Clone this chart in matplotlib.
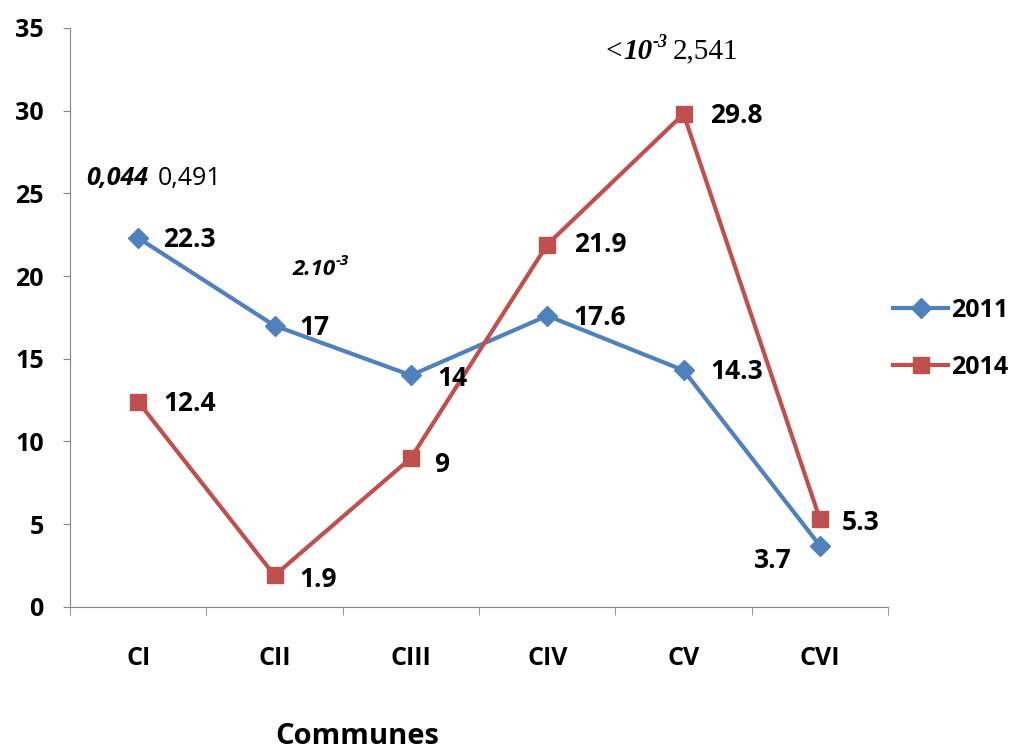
import matplotlib.pyplot as plt
from matplotlib.transforms import offset_copy
import numpy as np

# Données
communes = ['CI', 'CII', 'CIII', 'CIV', 'CV', 'CVI']
val_2011 = [22.3, 17, 14, 17.6, 14.3, 3.7]
val_2014 = [12.4, 1.9, 9, 21.9, 29.8, 5.3]
y_ticks = [0, 5, 10, 15, 20, 25, 30, 35]

bleu = '#4F81BD'
rouge = '#C0504D'
gris = '#868686'

plt.rcParams['font.family'] = ['Open Sans', 'DejaVu Sans']

fig = plt.figure(figsize=(10.15, 7.53), dpi=100)
ax = fig.add_axes([0.069, 0.194, 0.806, 0.769])

x = np.arange(len(communes))
l1, = ax.plot(x, val_2011, color=bleu, lw=3, marker='D', ms=10, label='2011', zorder=3)
l2, = ax.plot(x, val_2014, color=rouge, lw=3, marker='s', ms=11.5, label='2014', zorder=3)

# Etiquettes des valeurs (décalages en points)
dec_2011 = [(18, -1), (18, -1), (19, -2), (19, -1), (19, -1), (-20, -11)]
dec_2014 = [(18, -1), (18, -3), (17, -5), (19, 0), (19, -1), (16, -2)]
for i, v in enumerate(val_2011):
    ax.annotate(f'{v:g}', (x[i], v), xytext=dec_2011[i], textcoords='offset points',
                fontsize=19, fontweight='bold', va='center',
                ha='right' if i == 5 else 'left')
for i, v in enumerate(val_2014):
    ax.annotate(f'{v:g}', (x[i], v), xytext=dec_2014[i], textcoords='offset points',
                fontsize=19, fontweight='bold', va='center', ha='left')

# Annotations (p-values)
ax.text(-0.385, 25.9, '0,044', fontsize=18, fontweight='bold', style='italic', va='center')
ax.text(0.14, 25.9, '0,491', fontsize=18, va='center')

ax.text(1.13, 20.4, '2.10', fontsize=16, fontweight='bold', style='italic', va='center')
tr = offset_copy(ax.transData, fig=fig, x=31, y=6, units='points')
ax.text(1.13, 20.4, '-3', fontsize=11, fontweight='bold', style='italic', va='center', transform=tr)

serif = 'Liberation Serif'
ax.text(3.425, 33.55, '<', fontsize=21, family=serif, va='center')
ax.text(3.557, 33.55, '10', fontsize=21, family=serif, fontweight='bold', style='italic', va='center')
tr2 = offset_copy(ax.transData, fig=fig, x=21, y=7, units='points')
ax.text(3.557, 33.55, '-3', fontsize=13, family=serif, fontweight='bold', style='italic', va='center', transform=tr2)
ax.text(3.917, 33.55, '2,541', fontsize=21, family=serif, va='center')

ax.set_xlim(-0.5, 5.5)
ax.set_ylim(0, 35)
ax.set_yticks(y_ticks)
ax.set_xticks(x)
ax.set_xticklabels(communes, fontsize=18, fontweight='bold')
ax.set_xticks(np.arange(-0.5, 6, 1), minor=True)
ax.tick_params(axis='x', which='major', length=0, pad=28)
ax.tick_params(axis='x', which='minor', length=6, color=gris, direction='out')
ax.tick_params(axis='y', length=5, color=gris, labelsize=18, pad=14)
for lab in ax.get_yticklabels():
    lab.set_fontweight('bold')

for s in ['top', 'right']:
    ax.spines[s].set_visible(False)
for s in ['left', 'bottom']:
    ax.spines[s].set_color(gris)

fig.text(0.352, 1 - 737 / 753, 'Communes', fontsize=21, fontweight='bold', ha='center', va='center')

fig.legend(handles=[l1, l2], loc='center left', bbox_to_anchor=(0.880, 0.550),
           frameon=False, prop={'size': 18, 'weight': 'bold'}, handlelength=2.2,
           handletextpad=0.1, labelspacing=1.3, borderaxespad=0, borderpad=0)

fig.savefig('out.png', dpi=100)
